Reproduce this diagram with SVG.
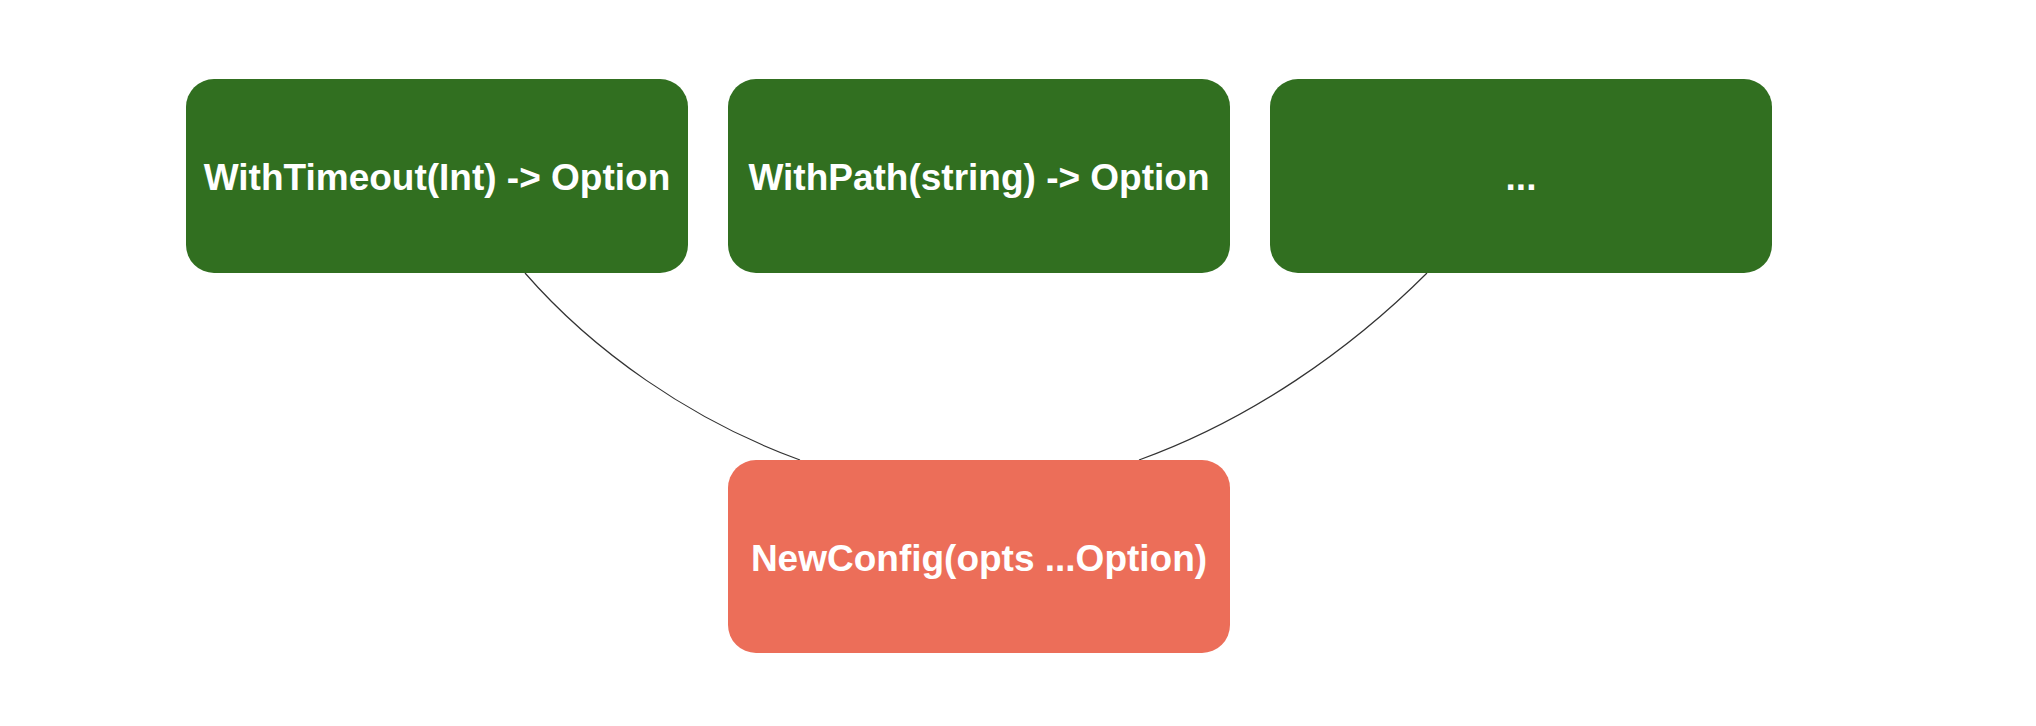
<svg xmlns="http://www.w3.org/2000/svg" width="2036" height="726" viewBox="0 0 2036 726">
<style>
.box{stroke:none}
.g{fill:#316f20}
.r{fill:#ec6e59}
.t{font-family:"Liberation Sans",Arial,sans-serif;font-weight:bold;font-size:37px;fill:#ffffff;text-anchor:middle}
.c{fill:none;stroke:#333333;stroke-width:1.2}
</style>
<rect width="2036" height="726" fill="#ffffff"/>
<g id="connectors">
<path class="c" d="M525 273 C592 350 690 420 800 460"/>
<path class="c" d="M1427 273 C1350 350 1250 420 1139 460"/>
</g>
<g id="withTimeout">
<rect class="box g" x="186" y="79" width="502" height="194" rx="28" ry="28"/>
<text class="t" x="437" y="190">WithTimeout(Int) -&gt; Option</text>
</g>
<g id="withPath">
<rect class="box g" x="728" y="79" width="502" height="194" rx="28" ry="28"/>
<text class="t" x="979" y="190">WithPath(string) -&gt; Option</text>
</g>
<g id="more">
<rect class="box g" x="1270" y="79" width="502" height="194" rx="28" ry="28"/>
<text class="t" x="1521" y="190">...</text>
</g>
<g id="newConfig">
<rect class="box r" x="728" y="460" width="502" height="193" rx="28" ry="28"/>
<text class="t" x="979" y="571">NewConfig(opts ...Option)</text>
</g>
</svg>
